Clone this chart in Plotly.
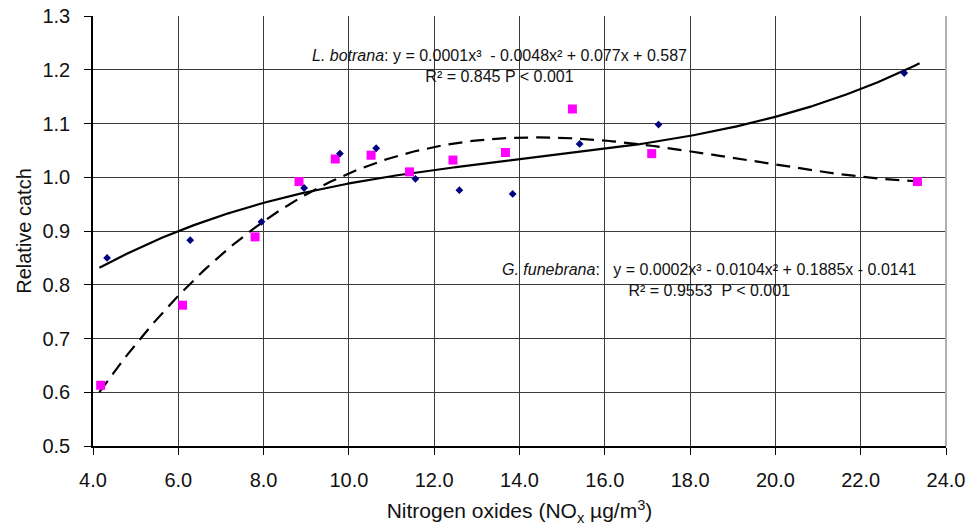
import numpy as np
import plotly.graph_objects as go

# Relative trap catch against NOx concentration
botrana_x = [4.33, 6.28, 7.95, 8.95, 9.79, 10.64, 11.56, 12.59, 13.84, 15.41, 17.26, 23.02]
botrana_y = [0.850, 0.883, 0.917, 0.980, 1.044, 1.054, 0.997, 0.976, 0.969, 1.062, 1.098, 1.194]

funebrana_x = [4.18, 6.10, 7.80, 8.83, 9.68, 10.52, 11.42, 12.44, 13.67, 15.24, 17.10, 23.33]
funebrana_y = [0.613, 0.762, 0.889, 0.992, 1.034, 1.041, 1.010, 1.032, 1.046, 1.127, 1.044, 0.992]

x_ticks = [4.0, 6.0, 8.0, 10.0, 12.0, 14.0, 16.0, 18.0, 20.0, 22.0, 24.0]
y_ticks = [0.5, 0.6, 0.7, 0.8, 0.9, 1.0, 1.1, 1.2, 1.3]

FONT = "Liberation Sans, Arial, sans-serif"

# third-order polynomial trendlines fitted to each series, drawn across the data span
x_lo = min(min(botrana_x), min(funebrana_x)) - 0.03
x_hi = max(max(botrana_x), max(funebrana_x)) + 0.05
xs = np.linspace(x_lo, x_hi, 300)
fit_b = np.polyval(np.polyfit(botrana_x, botrana_y, 3), xs)
fit_f = np.polyval(np.polyfit(funebrana_x, funebrana_y, 3), xs)

fig = go.Figure()
fig.add_trace(go.Scatter(x=xs, y=fit_b, mode="lines",
                         line=dict(color="black", width=2.2), hoverinfo="skip"))
fig.add_trace(go.Scatter(x=xs, y=fit_f, mode="lines",
                         line=dict(color="black", width=2.2, dash="14px,8px"), hoverinfo="skip"))
fig.add_trace(go.Scatter(x=funebrana_x, y=funebrana_y, mode="markers", name="G. funebrana",
                         marker=dict(symbol="square", size=9, color="#FF00FF")))
fig.add_trace(go.Scatter(x=botrana_x, y=botrana_y, mode="markers", name="L. botrana",
                         marker=dict(symbol="diamond", size=6, color="#000080")))

nb = "\u00a0"
fig.add_annotation(
    x=13.52, y=1.207, xref="x", yref="y", showarrow=False, align="center",
    xanchor="center", yanchor="middle",
    text=f"<i>L. botrana</i>: y = 0.0001x³{nb}{nb}- 0.0048x² + 0.077x + 0.587<br>R² = 0.845 P < 0.001",
    font=dict(family=FONT, size=16, color="#111"),
)
fig.add_annotation(
    x=18.46, y=0.808, xref="x", yref="y", showarrow=False, align="center",
    xanchor="center", yanchor="middle",
    text=f"<i>G. funebrana</i>:{nb}{nb}{nb}y = 0.0002x³ - 0.0104x² + 0.1885x - 0.0141<br>R² = 0.9553{nb} P < 0.001",
    font=dict(family=FONT, size=16, color="#111"),
)

# light frame on the right side of the plot area
fig.add_shape(type="line", xref="paper", yref="paper", x0=1, x1=1, y0=0, y1=1,
              line=dict(color="#b0b0b0", width=2))

fig.update_xaxes(
    range=[4, 24], tickvals=x_ticks, tickformat=".1f",
    showgrid=True, gridcolor="#3a3a3a", gridwidth=1.3,
    showline=True, linecolor="black", linewidth=1.5,
    ticks="outside", ticklen=7, tickcolor="black", tickwidth=1.3,
    ticklabelstandoff=8, automargin=False,
    tickfont=dict(family=FONT, size=20, color="#111"),
    title=dict(text="Nitrogen oxides (NO<sub>x</sub> µg/m<sup>3</sup>)",
               font=dict(family=FONT, size=21, color="#111"), standoff=14),
    zeroline=False,
)
fig.update_yaxes(
    range=[0.5, 1.3], tickvals=y_ticks, tickformat=".1f",
    showgrid=True, gridcolor="#3a3a3a", gridwidth=1.3,
    showline=True, linecolor="black", linewidth=1.5,
    ticks="outside", ticklen=7, tickcolor="black", tickwidth=1.3,
    ticklabelstandoff=10, automargin=False,
    tickfont=dict(family=FONT, size=20, color="#111"),
    title=dict(text="Relative catch", font=dict(family=FONT, size=20, color="#111"), standoff=5),
    zeroline=False,
)
fig.update_layout(
    width=970, height=526,
    margin=dict(l=93, r=24, t=16, b=80),
    plot_bgcolor="white", paper_bgcolor="white",
    showlegend=False,
)
fig.write_html("out.html")
